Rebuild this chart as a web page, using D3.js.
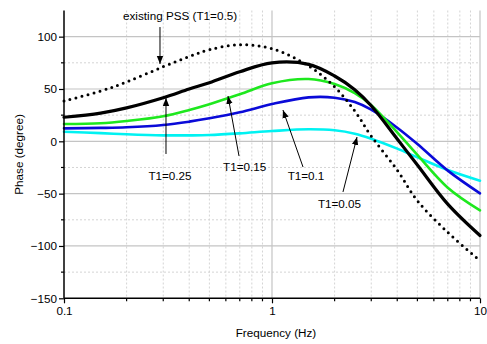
<!DOCTYPE html>
<html><head><meta charset="utf-8">
<script src="https://cdn.jsdelivr.net/npm/d3@7"></script>
<style>
body{margin:0;background:#fff;}
svg{display:block;}
text{font-family:"Liberation Sans",Arial,sans-serif;font-size:11.7px;fill:#000;}
</style></head>
<body><svg id="c" width="487" height="344"></svg>
<script>
// Data
const freq = [0.1, 0.15, 0.2, 0.3, 0.4, 0.5, 0.7, 1, 1.5, 2, 2.5, 3, 4, 5, 7, 10];
const pssT05 = [38.5, 48, 56.7, 71.3, 81, 87.5, 92.3, 88.5, 72, 52, 29, 5, -27.5, -56.7, -87, -114];
const t025 = [23, 27, 32, 41.7, 50, 56, 66.5, 75, 73.5, 62.4, 49.3, 34, 2.2, -22.6, -60, -90];
const t015 = [16.5, 17.2, 19.4, 24, 30, 35.5, 45, 55.5, 59.5, 54.7, 46, 34.5, 8.6, -13, -44.3, -66];
const t010 = [12.4, 12.8, 13.4, 15.6, 18.8, 22, 27.7, 35.6, 42, 41.7, 37.5, 30.2, 13, -2.6, -28, -49.7];
const t005 = [9.2, 7.8, 6.7, 5.7, 5.7, 6, 7.6, 9.8, 11.5, 10.5, 7.3, 2.5, -7, -15.3, -27.4, -37.6];
const yTicks = [-150, -100, -50, 0, 50, 100];
const yMinor = [-125, -75, -25, 25, 75];
const xTicks = [0.1, 1, 10];
const xTickLabels = ["0.1", "1", "10"];
const xMinor = [0.2,0.3,0.4,0.5,0.6,0.7,0.8,0.9,2,3,4,5,6,7,8,9];
const labels = ["existing PSS (T1=0.5)", "T1=0.25", "T1=0.15", "T1=0.1", "T1=0.05"];
const labelPos = [[0.3613,115.9],[0.3233,-37],[0.739,-28.4],[1.457,-37],[2.111,-63.7]];
const arrowTail = [[0.2894,109.2],[0.3093,-12.1],[0.694,-14],[1.41,-24.6],[2.194,-48.4]];
const arrowTip = [[0.2894,73.9],[0.3093,41.4],[0.6144,43.3],[1.129,29.9],[2.563,4.1]];

const series = [
  {v:t005, color:"#00f2f2", w:2.6},
  {v:t010, color:"#0a0ad8", w:2.6},
  {v:t015, color:"#1ee81e", w:2.6},
  {v:t025, color:"#000", w:3.2},
  {v:pssT05, color:"#000", w:3.2, dotted:true}
];

const svg = d3.select("#c");
const L=64, R=480, T=10.5, B=298.3;
const x = d3.scaleLog().domain([0.1,10]).range([L,R]);
const y = d3.scaleLinear().domain([-150,125]).range([B,T]);

const g = svg.append("g");
// grid
g.selectAll(".gmy").data(yMinor).join("line")
  .attr("x1",L).attr("x2",R).attr("y1",d=>y(d)).attr("y2",d=>y(d))
  .attr("stroke","#d4d4d4").attr("stroke-width",1).attr("stroke-dasharray","2,2");
g.selectAll(".gmx").data(xMinor).join("line")
  .attr("x1",d=>x(d)).attr("x2",d=>x(d)).attr("y1",T).attr("y2",B)
  .attr("stroke","#d4d4d4").attr("stroke-width",1).attr("stroke-dasharray","2,2");
g.selectAll(".gy").data(yTicks.filter(d=>d>-150)).join("line")
  .attr("x1",L).attr("x2",R).attr("y1",d=>y(d)).attr("y2",d=>y(d))
  .attr("stroke","#c4c4c4").attr("stroke-width",1.2);
g.selectAll(".gx").data(xTicks.filter(d=>d>0.1)).join("line")
  .attr("x1",d=>x(d)).attr("x2",d=>x(d)).attr("y1",T).attr("y2",B)
  .attr("stroke","#c4c4c4").attr("stroke-width",1.2);

// curves
const line = d3.line().x(d=>x(d[0])).y(d=>y(d[1])).curve(d3.curveCatmullRom.alpha(0.5));
series.forEach(s=>{
  const p = svg.append("path").datum(freq.map((f,i)=>[f,s.v[i]]))
    .attr("d",line).attr("fill","none").attr("stroke",s.color)
    .attr("stroke-width",s.w).attr("stroke-linecap","round");
  if(s.dotted) p.attr("stroke-dasharray","0,6.2").attr("stroke-width",3);
});

// axes
const ya = d3.axisLeft(y).tickValues(yTicks).tickSize(5).tickFormat(d3.format("d"));
const yg = svg.append("g").attr("transform",`translate(${L},0)`).call(ya);
yg.select(".domain").attr("d",`M0,${T}V${B}`).attr("stroke-width",1.5);
yg.selectAll(".tick line").attr("stroke-width",1.2);
yg.selectAll(".tick text").attr("x",-7).style("font-size","11.7px").style("font-family","Liberation Sans, Arial");
svg.append("g").selectAll("line").data(yMinor).join("line")
  .attr("x1",L-3).attr("x2",L).attr("y1",d=>y(d)).attr("y2",d=>y(d)).attr("stroke","#000").attr("stroke-width",1.2);

const xa = d3.axisBottom(x).tickValues(xTicks).tickSize(5).tickFormat((d,i)=>xTickLabels[i]);
const xg = svg.append("g").attr("transform",`translate(0,${B})`).call(xa);
xg.select(".domain").attr("d",`M${L},0H${R}`).attr("stroke-width",1.5);
xg.selectAll(".tick line").attr("stroke-width",1.2);
xg.selectAll(".tick text").attr("y",8).style("font-size","11.7px").style("font-family","Liberation Sans, Arial");
svg.append("g").selectAll("line").data(xMinor).join("line")
  .attr("x1",d=>x(d)).attr("x2",d=>x(d)).attr("y1",B).attr("y2",B+3).attr("stroke","#000").attr("stroke-width",1.2);

// axis titles
svg.append("text").attr("x",(L+R)/2+4).attr("y",337).attr("text-anchor","middle").text("Frequency (Hz)");
svg.append("text").attr("transform",`translate(23,${(T+B)/2}) rotate(-90)`).attr("text-anchor","middle").text("Phase (degree)");

// annotations
svg.append("defs").append("marker").attr("id","ah").attr("viewBox","0 0 10 10")
  .attr("refX",10).attr("refY",5).attr("markerWidth",8).attr("markerHeight",8)
  .attr("markerUnits","userSpaceOnUse").attr("orient","auto")
  .append("path").attr("d","M0,1L10,5L0,9Z").attr("fill","#000");
labels.forEach((t,i)=>{
  svg.append("line").attr("x1",x(arrowTail[i][0])).attr("y1",y(arrowTail[i][1]))
    .attr("x2",x(arrowTip[i][0])).attr("y2",y(arrowTip[i][1]))
    .attr("stroke","#000").attr("stroke-width",1).attr("marker-end","url(#ah)");
  svg.append("text").attr("x",x(labelPos[i][0])).attr("y",y(labelPos[i][1]))
    .attr("text-anchor","middle").text(t);
});
</script></body></html>
